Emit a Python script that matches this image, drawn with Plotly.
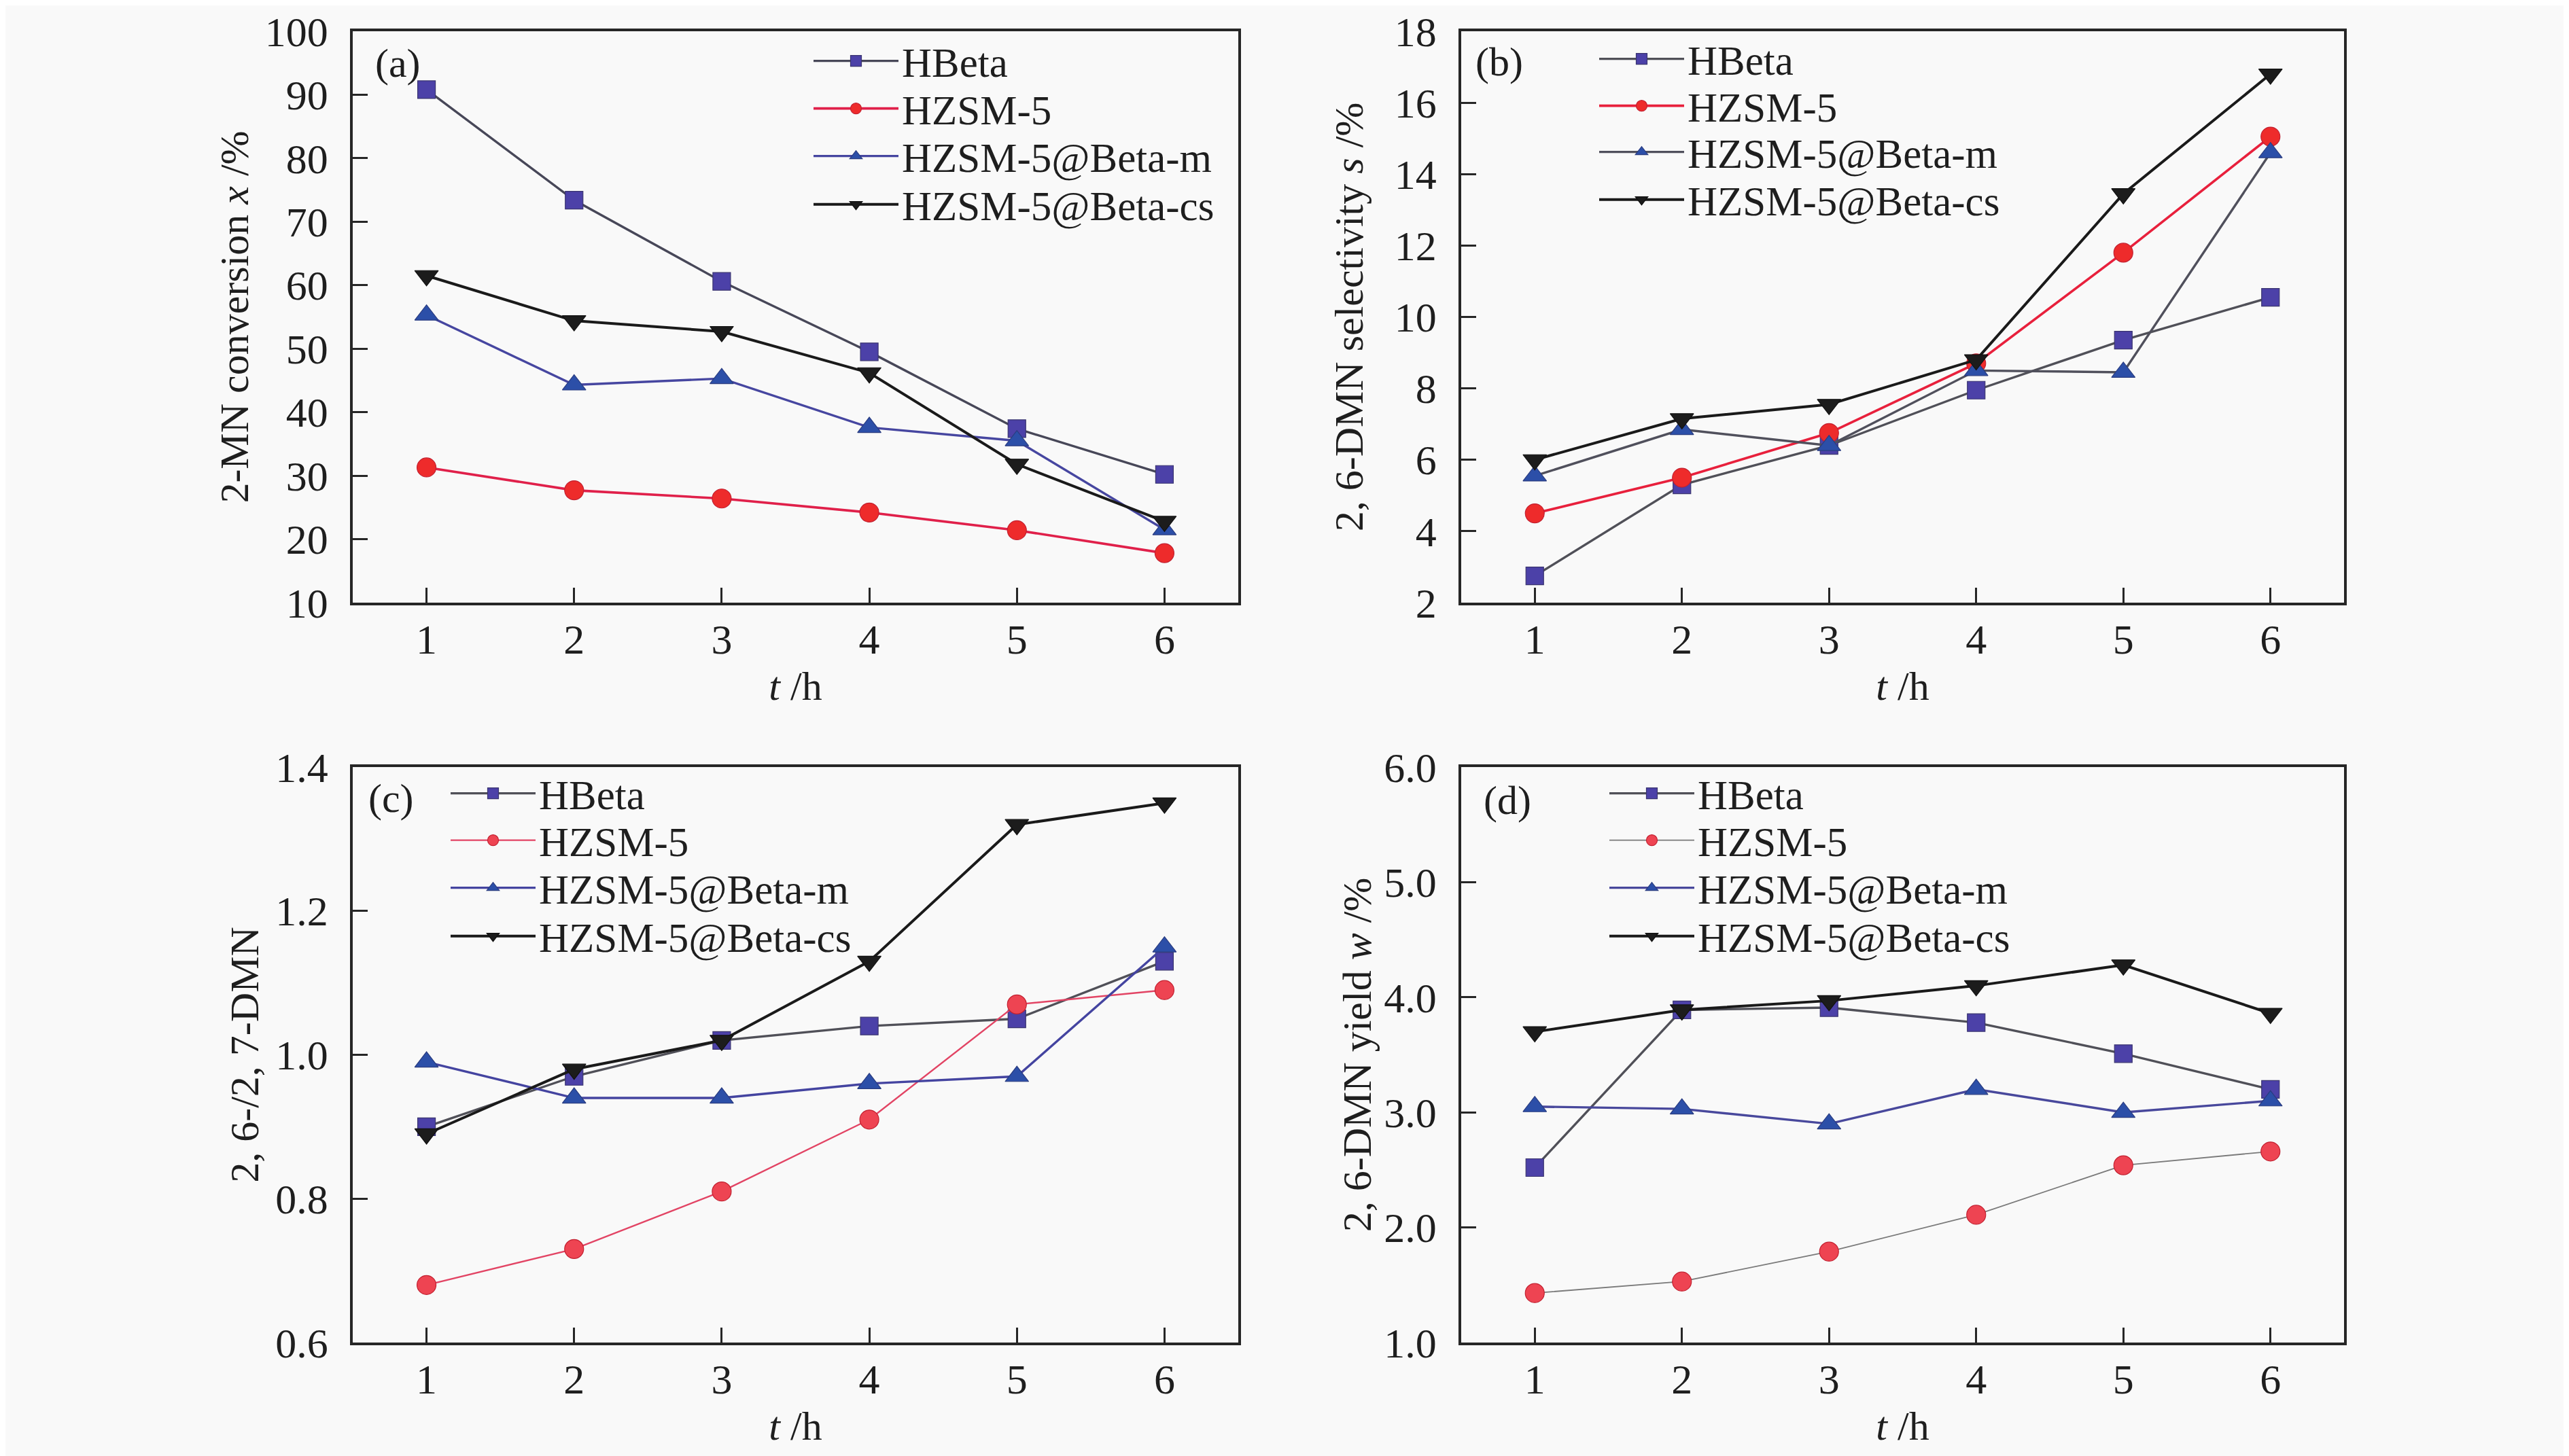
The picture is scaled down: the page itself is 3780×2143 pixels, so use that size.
import plotly.graph_objects as go

# ---------------- data ----------------
t_hours = [1, 2, 3, 4, 5, 6]
series_names = ["HBeta", "HZSM-5", "HZSM-5@Beta-m", "HZSM-5@Beta-cs"]

# (a) 2-MN conversion x /%
conv_hbeta = [90.8, 73.4, 60.6, 49.5, 37.4, 30.2]
conv_hzsm5 = [31.3, 27.7, 26.4, 24.2, 21.4, 17.8]
conv_beta_m = [55.3, 44.3, 45.3, 37.6, 35.5, 21.5]
conv_beta_cs = [61.5, 54.4, 52.7, 46.2, 31.8, 22.8]

# (b) 2,6-DMN selectivity s /%
sel_hbeta = [2.75, 5.3, 6.4, 7.95, 9.35, 10.55]
sel_hzsm5 = [4.5, 5.5, 6.75, 8.7, 11.8, 15.05]
sel_beta_m = [5.55, 6.85, 6.4, 8.5, 8.45, 14.6]
sel_beta_cs = [6.0, 7.15, 7.55, 8.8, 13.45, 16.8]

# (c) 2,6-/2,7-DMN ratio
ratio_hbeta = [0.90, 0.97, 1.02, 1.04, 1.05, 1.13]
ratio_hzsm5 = [0.68, 0.73, 0.81, 0.91, 1.07, 1.09]
ratio_beta_m = [0.99, 0.94, 0.94, 0.96, 0.97, 1.15]
ratio_beta_cs = [0.89, 0.98, 1.02, 1.13, 1.32, 1.35]

# (d) 2,6-DMN yield w /%
yield_hbeta = [2.52, 3.89, 3.91, 3.78, 3.51, 3.20]
yield_hzsm5 = [1.43, 1.53, 1.79, 2.11, 2.54, 2.66]
yield_beta_m = [3.05, 3.03, 2.90, 3.20, 3.00, 3.10]
yield_beta_cs = [3.70, 3.89, 3.97, 4.10, 4.28, 3.86]

panel_labels = ["(a)", "(b)", "(c)", "(d)"]
y_titles = ["2-MN conversion <i>x</i> /%", "2, 6-DMN selectivity <i>s</i> /%",
            "2, 6-/2, 7-DMN", "2, 6-DMN yield <i>w</i> /%"]
x_title = "<i>t</i> /h"

# ---------------- style / geometry ----------------
FONT = "Liberation Serif"
BG = "#f9f9f9"
AX = "#262626"
TXT = "#1e1e1e"
OFF = 8                      # default page body margin
FW, FH = 3780 - OFF, 2143 - OFF


def px_x(p):
    return (p - OFF) / FW


def px_y(p):
    return 1 - (p - OFF) / FH


marker_symbols = ["square", "circle", "triangle-up", "triangle-down"]
marker_sizes = [26, 28, 30, 30]
marker_colors_ab = ["#4C41A8", "#EE2B2B", "#2C4FA8", "#1c1c1c"]
marker_colors_cd = ["#4C41A8", "#EE4452", "#2C4FA8", "#1c1c1c"]
marker_line_colors = ["#3a3470", "#c22030", "#2a3c80", "#111111"]

line_styles = {
    0: [("#474758", 3.4), ("#E0204A", 3.6), ("#4646A0", 3.4), ("#1a1a1a", 4.0)],
    1: [("#505058", 3.4), ("#E8203C", 3.6), ("#50505c", 3.4), ("#1a1a1a", 4.0)],
    2: [("#505058", 3.4), ("#E24464", 2.4), ("#4444A0", 3.4), ("#1a1a1a", 4.0)],
    3: [("#505058", 3.4), ("#7a7a7a", 1.8), ("#48489C", 3.4), ("#1a1a1a", 4.0)],
}

panels = [
    [conv_hbeta, conv_hzsm5, conv_beta_m, conv_beta_cs],
    [sel_hbeta, sel_hzsm5, sel_beta_m, sel_beta_cs],
    [ratio_hbeta, ratio_hzsm5, ratio_beta_m, ratio_beta_cs],
    [yield_hbeta, yield_hzsm5, yield_beta_m, yield_beta_cs],
]

y_ranges = [[10, 100], [2, 18], [0.6, 1.4], [1.0, 6.0]]
y_dticks = [10, 2, 0.2, 1.0]
y_formats = ["d", "d", ".1f", ".1f"]
y_standoffs = [6, 28, 6, 0]

x_dom = [[px_x(519), px_x(1822)], [px_x(2150), px_x(3449)]]
y_dom = [[px_y(887), px_y(46)], [px_y(1976), px_y(1129)]]

ITEMW = 125
legend_text_x = [1326, 2482, 792, 2497]
legend_rows_y = [[90, 160, 230, 301], [87, 156, 224, 294],
                 [1168, 1237, 1307, 1378], [1168, 1237, 1307, 1378]]
label_pos = [(0.024, 0.944), (0.015, 0.946), (0.016, 0.946), (0.024, 0.942)]

fig = go.Figure()
layout = dict(
    width=FW, height=FH,
    margin=dict(l=0, r=0, t=0, b=0),
    paper_bgcolor=BG, plot_bgcolor=BG,
    font=dict(family=FONT, size=60, color=TXT),
    showlegend=True,
    annotations=[],
)

for p in range(4):
    col = p % 2
    row = p // 2
    sfx = "" if p == 0 else str(p + 1)
    xa = "x" + sfx
    ya = "y" + sfx
    mcolors = marker_colors_ab if row == 0 else marker_colors_cd
    for s in range(4):
        k = p * 4 + s + 1
        leg = "legend" if k == 1 else "legend%d" % k
        lc, lw = line_styles[p][s]
        fig.add_trace(go.Scatter(
            x=t_hours, y=panels[p][s], name=series_names[s],
            mode="lines+markers", xaxis=xa, yaxis=ya, legend=leg,
            line=dict(color=lc, width=lw),
            marker=dict(symbol=marker_symbols[s], size=marker_sizes[s],
                        color=mcolors[s],
                        line=dict(color=marker_line_colors[s], width=1.2)),
            cliponaxis=False,
        ))
        layout[leg] = dict(
            x=px_x(legend_text_x[p] - ITEMW - 9), y=px_y(legend_rows_y[p][s]),
            xanchor="left", yanchor="middle",
            bgcolor="rgba(0,0,0,0)", borderwidth=0, itemwidth=ITEMW,
            font=dict(family=FONT, size=61, color=TXT),
        )

    common = dict(showline=True, linecolor=AX, linewidth=3.5, mirror=True,
                  ticks="inside", ticklen=22, tickwidth=3, tickcolor=AX,
                  showgrid=False, zeroline=False, automargin=False,
                  ticklabeloverflow="allow",
                  tickfont=dict(family=FONT, size=62, color=TXT))
    layout["xaxis" + sfx] = dict(
        common, domain=x_dom[col], anchor=ya, range=[0.5, 6.5],
        tickmode="array", tickvals=t_hours, ticklabelstandoff=-3,
        title=dict(text=x_title, font=dict(family=FONT, size=60), standoff=15),
    )
    layout["yaxis" + sfx] = dict(
        common, domain=y_dom[row], anchor=xa, range=y_ranges[p],
        dtick=y_dticks[p], tick0=y_ranges[p][0], tickformat=y_formats[p],
        ticklabelstandoff=20,
        title=dict(text=y_titles[p], font=dict(family=FONT, size=60),
                   standoff=y_standoffs[p]),
    )
    layout["annotations"].append(dict(
        text=panel_labels[p], xref=xa + " domain", yref=ya + " domain",
        x=label_pos[p][0], y=label_pos[p][1], xanchor="left", yanchor="middle",
        showarrow=False, font=dict(family=FONT, size=60, color=TXT),
    ))

fig.update_layout(**layout)
fig.write_html("out.html")
